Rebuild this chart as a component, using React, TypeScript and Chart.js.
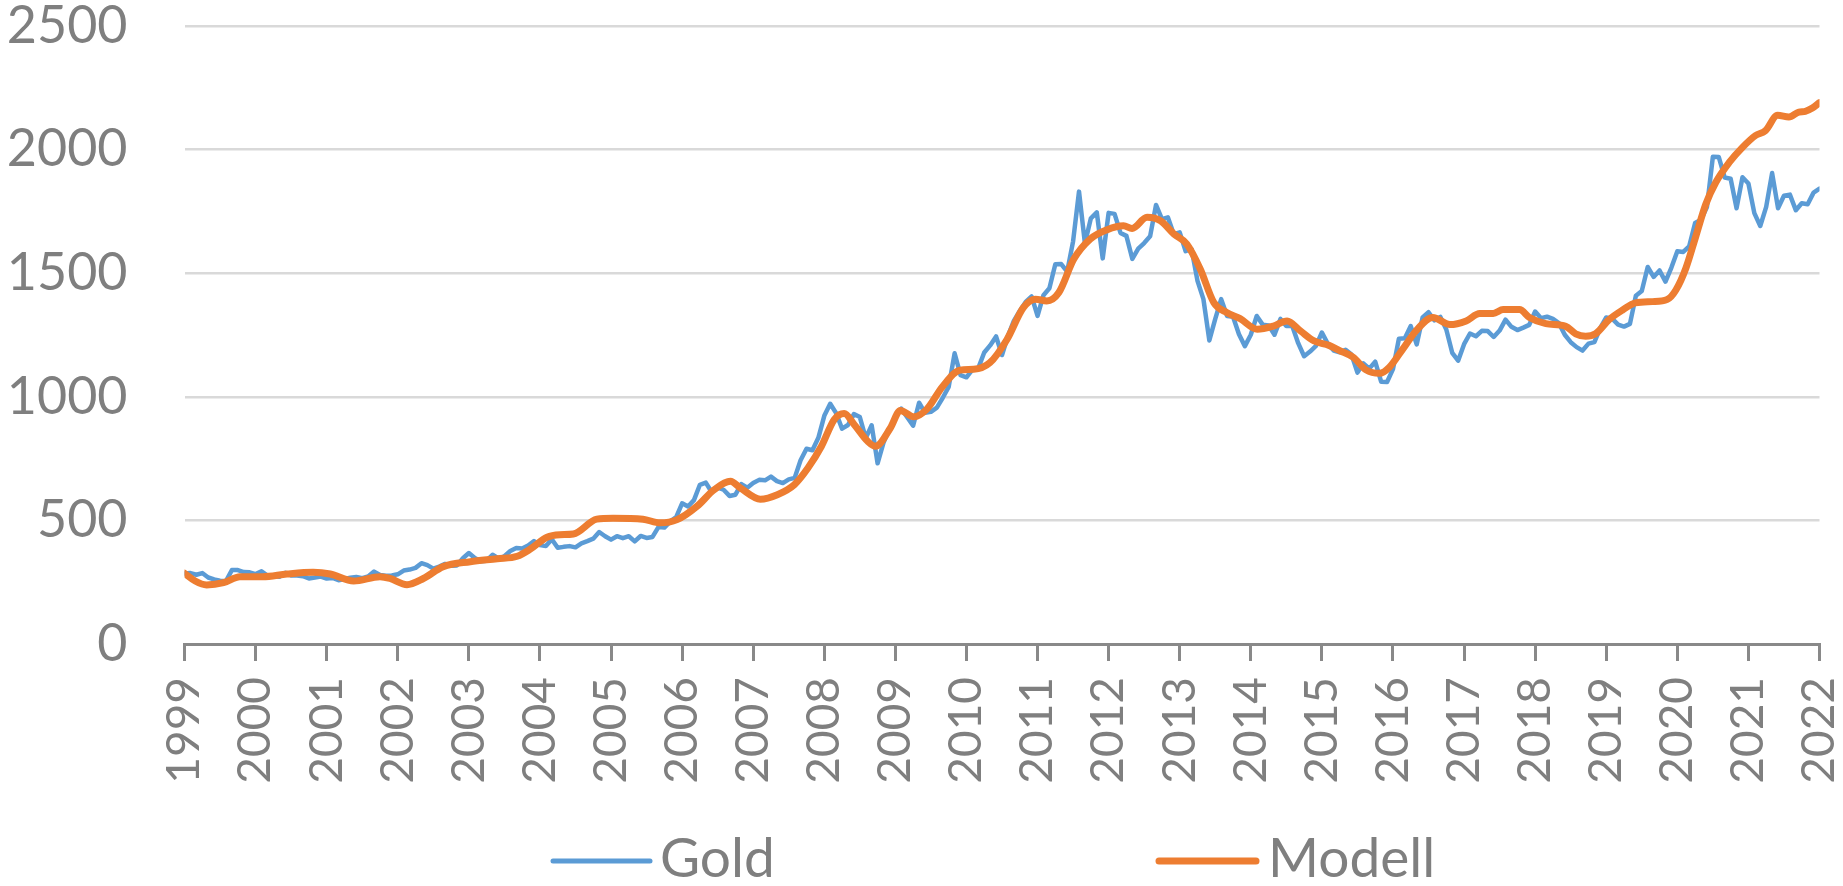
import { useEffect, useRef } from "react";
import { Chart, registerables } from "chart.js";

Chart.register(...registerables);

// ---- data (month-end values, Jan 1999 .. Jan 2022) ----
const START_YEAR = 1999;
const END_YEAR = 2022;
const Y_MAX = 2500;
const Y_STEP = 500;

const gold1999 = [285, 287, 280, 287, 269, 261, 256, 255, 299, 299, 291, 290];
const gold2000 = [283, 294, 277, 275, 272, 288, 277, 277, 274, 265, 269, 273];
const gold2001 = [265, 267, 258, 263, 268, 271, 266, 273, 293, 279, 276, 277];
const gold2002 = [282, 297, 301, 308, 327, 319, 305, 313, 324, 317, 318, 347];
const gold2003 = [368, 348, 335, 337, 361, 346, 355, 376, 388, 386, 398, 416];
const gold2004 = [400, 396, 424, 389, 393, 396, 391, 407, 416, 426, 453, 436];
const gold2005 = [422, 436, 428, 436, 415, 437, 429, 433, 473, 471, 496, 513];
const gold2006 = [569, 556, 582, 644, 653, 614, 633, 624, 599, 604, 647, 632];
const gold2007 = [651, 664, 662, 677, 659, 651, 666, 672, 743, 790, 784, 834];
const gold2008 = [923, 972, 934, 871, 886, 930, 918, 833, 885, 731, 815, 870];
const gold2009 = [920, 952, 917, 883, 976, 935, 939, 956, 996, 1040, 1176, 1088];
const gold2010 = [1079, 1110, 1116, 1179, 1208, 1244, 1169, 1246, 1307, 1347, 1384, 1406];
const gold2011 = [1327, 1411, 1439, 1536, 1537, 1506, 1629, 1830, 1620, 1722, 1746, 1560];
const gold2012 = [1744, 1740, 1663, 1651, 1558, 1599, 1622, 1649, 1776, 1719, 1726, 1658];
const gold2013 = [1665, 1589, 1598, 1469, 1395, 1228, 1315, 1395, 1327, 1324, 1253, 1205];
const gold2014 = [1251, 1327, 1292, 1289, 1251, 1315, 1286, 1286, 1217, 1164, 1183, 1206];
const gold2015 = [1260, 1214, 1187, 1180, 1190, 1171, 1098, 1135, 1114, 1142, 1061, 1060];
const gold2016 = [1112, 1235, 1237, 1286, 1212, 1321, 1342, 1309, 1323, 1272, 1178, 1146];
const gold2017 = [1213, 1256, 1245, 1267, 1266, 1242, 1268, 1312, 1283, 1270, 1280, 1291];
const gold2018 = [1345, 1318, 1324, 1315, 1298, 1251, 1221, 1201, 1187, 1215, 1221, 1279];
const gold2019 = [1321, 1316, 1292, 1284, 1295, 1409, 1428, 1525, 1485, 1511, 1466, 1523];
const gold2020 = [1589, 1586, 1609, 1703, 1716, 1768, 1971, 1970, 1887, 1882, 1763, 1888];
const gold2021 = [1863, 1743, 1691, 1768, 1905, 1763, 1813, 1818, 1755, 1783, 1779, 1826];
const gold2022 = [1842];

const goldValues = [
  ...gold1999, ...gold2000, ...gold2001, ...gold2002, ...gold2003, ...gold2004,
  ...gold2005, ...gold2006, ...gold2007, ...gold2008, ...gold2009, ...gold2010,
  ...gold2011, ...gold2012, ...gold2013, ...gold2014, ...gold2015, ...gold2016,
  ...gold2017, ...gold2018, ...gold2019, ...gold2020, ...gold2021, ...gold2022,
];

const modellYears = [
  1999.0, 1999.15, 1999.31, 1999.55, 1999.78, 2000.1, 2000.44, 2000.81, 2001.05, 2001.38,
  2001.75, 2001.89, 2002.13, 2002.36, 2002.64, 2003.02, 2003.4, 2003.68, 2003.87, 2004.1,
  2004.28, 2004.47, 2004.8, 2005.03, 2005.45, 2005.69, 2005.93, 2006.21, 2006.45, 2006.68,
  2006.82, 2007.1, 2007.34, 2007.58, 2007.77, 2007.96, 2008.14, 2008.28, 2008.42, 2008.61,
  2008.72, 2008.93, 2009.07, 2009.26, 2009.44, 2009.66, 2009.91, 2010.1, 2010.33, 2010.57,
  2010.8, 2010.97, 2011.13, 2011.3, 2011.51, 2011.74, 2011.98, 2012.21, 2012.33, 2012.54,
  2012.73, 2012.92, 2013.1, 2013.29, 2013.48, 2013.66, 2013.85, 2014.09, 2014.32, 2014.51,
  2014.7, 2014.89, 2015.1, 2015.25, 2015.44, 2015.62, 2015.81, 2015.95, 2016.14, 2016.33,
  2016.56, 2016.8, 2017.03, 2017.22, 2017.41, 2017.55, 2017.78, 2017.92, 2018.15, 2018.43,
  2018.57, 2018.71, 2018.85, 2019.04, 2019.23, 2019.41, 2019.65, 2019.86, 2019.98, 2020.12,
  2020.26, 2020.4, 2020.54, 2020.73, 2020.92, 2021.1, 2021.24, 2021.41, 2021.57, 2021.71,
  2021.8, 2021.9, 2022.0,
];
const modellValues = [
  286, 255, 239, 248, 272, 272, 283, 290, 283, 255,
  272, 265, 240, 265, 313, 333, 345, 355, 385, 432,
  442, 445, 505, 509, 505, 490, 503, 557, 624, 658,
  631, 586, 604, 645, 712, 800, 908, 932, 888, 820,
  800, 874, 945, 919, 949, 1040, 1108, 1111, 1138, 1232,
  1361, 1395, 1388, 1422, 1557, 1638, 1676, 1692, 1681, 1726,
  1712, 1658, 1618, 1516, 1381, 1341, 1316, 1273, 1286, 1307,
  1266, 1226, 1208, 1187, 1160, 1109, 1095, 1120, 1194, 1269,
  1321, 1292, 1307, 1337, 1337, 1353, 1353, 1321, 1296, 1285,
  1255, 1245, 1255, 1312, 1351, 1380, 1385, 1394, 1432, 1520,
  1649, 1779, 1867, 1948, 2010, 2057, 2077, 2139, 2132, 2152,
  2155, 2168, 2190,
];

const seriesLabels = ["Gold", "Modell"];
const seriesColors = ["#5b9bd5", "#ed7d31"];

// ---- layout / style ----
const W = 1843;
const H = 886;
const TEXT_GRAY = "#7f7f7f";
const AXIS_GRAY = "#898989";
const GRID_GRAY = "#d9d9d9";

const legendLayout = [
  { lineX0: 553, lineX1: 650, textX: 660 },
  { lineX0: 1159, lineX1: 1256, textX: 1268 },
];
const LEGEND_LINE_Y = 861;
const LEGEND_TEXT_BASELINE = 877;

const customLegend = {
  id: "customLegend",
  afterDraw(chart: any) {
    const ctx = chart.ctx;
    ctx.save();
    chart.data.datasets.forEach((ds: any, i: number) => {
      const pos = legendLayout[i];
      if (!pos) return;
      ctx.beginPath();
      ctx.strokeStyle = ds.borderColor;
      ctx.lineWidth = i === 0 ? 5 : 7;
      ctx.lineCap = "round";
      ctx.moveTo(pos.lineX0, LEGEND_LINE_Y);
      ctx.lineTo(pos.lineX1, LEGEND_LINE_Y);
      ctx.stroke();
      ctx.fillStyle = TEXT_GRAY;
      ctx.font = "55px Lato";
      ctx.textAlign = "left";
      ctx.textBaseline = "alphabetic";
      ctx.fillText(ds.label, pos.textX, LEGEND_TEXT_BASELINE);
    });
    ctx.restore();
  },
};

export default function App() {
  const canvasRef = useRef<HTMLCanvasElement | null>(null);

  useEffect(() => {
    if (!canvasRef.current) return;
    const goldData = goldValues.map((v, i) => ({ x: START_YEAR + i / 12, y: v }));
    const modellData = modellYears.map((x, i) => ({ x, y: modellValues[i] }));

    const chart = new Chart(canvasRef.current, {
      type: "line",
      data: {
        datasets: [
          {
            label: seriesLabels[0],
            data: goldData,
            borderColor: seriesColors[0],
            backgroundColor: seriesColors[0],
            borderWidth: 4.5,
            pointRadius: 0,
            tension: 0,
            borderJoinStyle: "round",
            borderCapStyle: "round",
            order: 1,
          },
          {
            label: seriesLabels[1],
            data: modellData,
            borderColor: seriesColors[1],
            backgroundColor: seriesColors[1],
            borderWidth: 7,
            pointRadius: 0,
            cubicInterpolationMode: "monotone",
            borderJoinStyle: "round",
            borderCapStyle: "round",
            order: 0,
          },
        ],
      },
      options: {
        responsive: false,
        animation: false,
        events: [],
        layout: { padding: { left: 0, top: 26, right: 23.5, bottom: 0 } },
        plugins: {
          legend: { display: false },
          tooltip: { enabled: false },
          title: { display: false },
        },
        scales: {
          x: {
            type: "linear",
            min: START_YEAR,
            max: END_YEAR,
            offset: false,
            afterFit: (scale: any) => {
              scale.height = 242;
              scale.paddingLeft = 0;
              scale.paddingRight = 0;
            },
            grid: {
              display: true,
              drawOnChartArea: false,
              drawTicks: true,
              tickLength: 17,
              color: AXIS_GRAY,
              lineWidth: 3,
            },
            border: { display: true, color: AXIS_GRAY, width: 3 },
            ticks: {
              stepSize: 1,
              autoSkip: false,
              minRotation: 90,
              maxRotation: 90,
              padding: 16,
              color: TEXT_GRAY,
              font: { family: "Lato", size: 46, lineHeight: 1 },
              callback: (v: any) => String(v),
            },
          },
          y: {
            type: "linear",
            min: 0,
            max: Y_MAX,
            afterFit: (scale: any) => {
              scale.width = 184.5;
              scale.paddingTop = 0;
              scale.paddingBottom = 0;
            },
            grid: {
              display: true,
              drawTicks: false,
              color: GRID_GRAY,
              lineWidth: 2.5,
            },
            border: { display: false },
            ticks: {
              stepSize: Y_STEP,
              padding: 57,
              color: TEXT_GRAY,
              font: { family: "Lato", size: 52, lineHeight: 0.9 },
              callback: (v: any) => String(v),
            },
          },
        },
      },
      plugins: [customLegend],
    } as any);

    return () => chart.destroy();
  }, []);

  return (
    <div
      style={{
        position: "fixed",
        left: 0,
        top: 0,
        width: W,
        height: H,
        background: "#ffffff",
      }}
    >
      <canvas ref={canvasRef} width={W} height={H} style={{ display: "block" }} />
    </div>
  );
}
